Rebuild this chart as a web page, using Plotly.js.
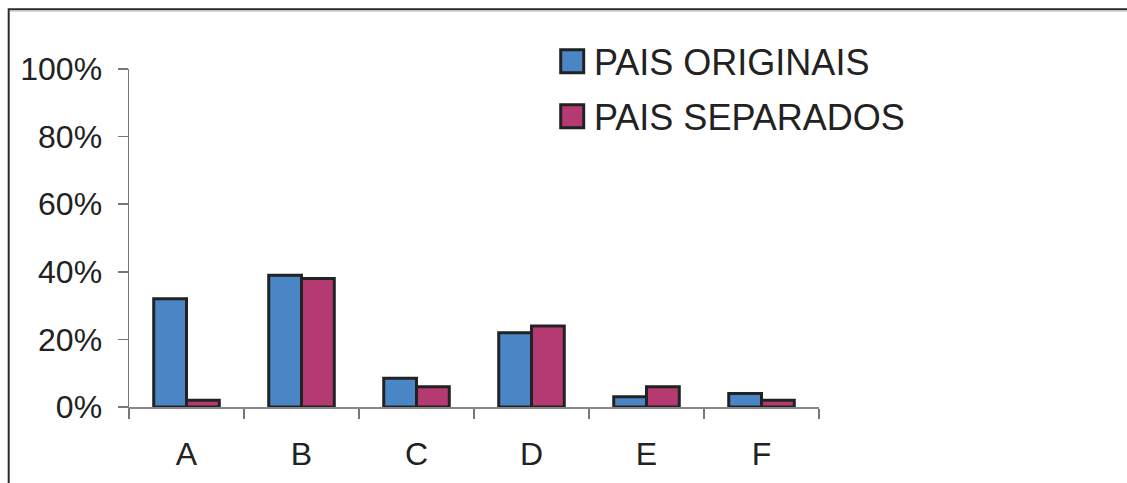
<!DOCTYPE html>
<html>
<head>
<meta charset="utf-8">
<script src="https://cdn.plot.ly/plotly-3.0.1.min.js"></script>
<style>html,body{margin:0;padding:0;background:#fff;}#chart{width:1127px;height:483px;}</style>
</head>
<body>
<div id="chart"></div>
<script>
const categories = ["A", "B", "C", "D", "E", "F"];
const seriesNames = ["PAIS ORIGINAIS", "PAIS SEPARADOS"];
const paisOriginais = [0.32, 0.39, 0.085, 0.22, 0.03, 0.04];
const paisSeparados = [0.02, 0.38, 0.06, 0.24, 0.06, 0.02];
const yTickVals = [0, 0.2, 0.4, 0.6, 0.8, 1.0];
const yTickText = ["0%", "20%", "40%", "60%", "80%", "100%"];

const W = 1127, H = 483;
const L = 129.3, R = 819.3, T = 68.7, B = 406.7;
const px = x => (x - L) / (R - L);
const py = y => (B - y) / (B - T);

const colors = ["#4a86c6", "#b63a72"];
const fontFam = "Liberation Sans, Arial, sans-serif";

const traces = [paisOriginais, paisSeparados].map((vals, i) => ({
  type: "bar",
  name: seriesNames[i],
  x: categories,
  y: vals,
  marker: { color: colors[i], line: { color: "#222", width: 3 } },
  showlegend: false,
  hoverinfo: "x+y"
}));

const legendRows = [61, 116];
const shapes = [
  { type: "path", xref: "paper", yref: "paper",
    path: `M ${px(9)} ${py(H + 5)} L ${px(9)} ${py(9)} L ${px(W + 5)} ${py(9)}`,
    line: { color: "#2a2a2a", width: 2 } },
  { type: "line", xref: "paper", yref: "paper", x0: px(10), x1: px(W + 5), y0: py(10.8), y1: py(10.8),
    line: { color: "#bbbbbb", width: 1 } }
];
const annotations = [];
seriesNames.forEach((nm, i) => {
  const cy = legendRows[i];
  shapes.push({ type: "rect", xref: "paper", yref: "paper",
    x0: px(561), x1: px(584), y0: py(cy - 11.5), y1: py(cy + 11.5),
    fillcolor: colors[i], line: { color: "#222", width: 3 } });
  annotations.push({ xref: "paper", yref: "paper", x: px(592), y: py(cy + 1),
    xanchor: "left", yanchor: "middle", showarrow: false, text: nm,
    font: { family: fontFam, size: 36, color: "#222" } });
});

const layout = {
  width: W, height: H,
  margin: { l: L, r: W - R, t: T, b: H - B, pad: 0 },
  paper_bgcolor: "#ffffff", plot_bgcolor: "#ffffff",
  font: { family: fontFam, color: "#222", size: 32 },
  barmode: "group", bargap: 0.43, bargroupgap: 0,
  showlegend: false,
  xaxis: {
    type: "category", showline: true, linecolor: "#888", linewidth: 1.5,
    ticks: "outside", tickson: "boundaries", ticklen: 10, tickcolor: "#777", tickwidth: 1.5,
    showgrid: false, zeroline: false, ticklabelstandoff: 18,
    tickfont: { family: fontFam, size: 32, color: "#222" }
  },
  yaxis: {
    range: [0, 1], showline: true, linecolor: "#777", linewidth: 1.5,
    ticks: "outside", ticklen: 10, tickcolor: "#777", tickwidth: 1.5,
    tickvals: yTickVals, ticktext: yTickText,
    showgrid: false, zeroline: false, ticklabelstandoff: 9,
    tickfont: { family: fontFam, size: 32, color: "#222" }
  },
  shapes: shapes,
  annotations: annotations
};

Plotly.newPlot("chart", traces, layout, { displayModeBar: false, staticPlot: true });
</script>
</body>
</html>
